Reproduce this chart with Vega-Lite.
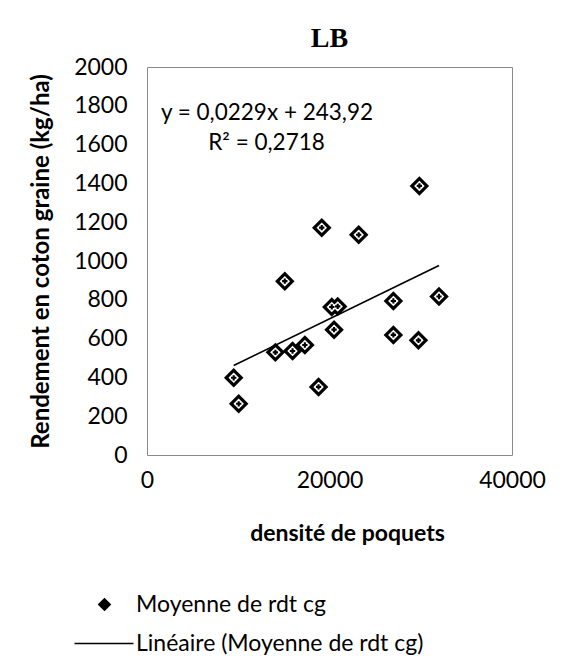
{
  "$schema": "https://vega.github.io/schema/vega-lite/v6.json",
  "autosize": "none",
  "width": 365,
  "height": 388,
  "padding": {"left": 147, "top": 67, "right": 53, "bottom": 215},
  "background": "white",
  "title": {
    "text": "LB",
    "font": "Liberation Serif",
    "fontSize": 28,
    "fontWeight": "bold",
    "color": "black",
    "anchor": "middle",
    "offset": 3
  },
  "config": {
    "font": "Lato",
    "view": {"stroke": "#8a8a8a", "strokeWidth": 1}
  },
  "datasets": {
    "moyennes": [
      {"densite": 9500, "rendement": 398, "serie": "Moyenne de rdt cg"},
      {"densite": 10050, "rendement": 264, "serie": "Moyenne de rdt cg"},
      {"densite": 14070, "rendement": 529, "serie": "Moyenne de rdt cg"},
      {"densite": 15100, "rendement": 896, "serie": "Moyenne de rdt cg"},
      {"densite": 15950, "rendement": 536, "serie": "Moyenne de rdt cg"},
      {"densite": 17300, "rendement": 567, "serie": "Moyenne de rdt cg"},
      {"densite": 18800, "rendement": 351, "serie": "Moyenne de rdt cg"},
      {"densite": 19150, "rendement": 1172, "serie": "Moyenne de rdt cg"},
      {"densite": 20250, "rendement": 763, "serie": "Moyenne de rdt cg"},
      {"densite": 20500, "rendement": 646, "serie": "Moyenne de rdt cg"},
      {"densite": 20900, "rendement": 766, "serie": "Moyenne de rdt cg"},
      {"densite": 23200, "rendement": 1135, "serie": "Moyenne de rdt cg"},
      {"densite": 27000, "rendement": 794, "serie": "Moyenne de rdt cg"},
      {"densite": 27000, "rendement": 619, "serie": "Moyenne de rdt cg"},
      {"densite": 29750, "rendement": 591, "serie": "Moyenne de rdt cg"},
      {"densite": 29850, "rendement": 1387, "serie": "Moyenne de rdt cg"},
      {"densite": 32000, "rendement": 817, "serie": "Moyenne de rdt cg"}
    ],
    "tendance": [
      {"densite": 9500, "rendement": 461.47, "serie": "Linéaire (Moyenne de rdt cg)"},
      {"densite": 32000, "rendement": 976.72, "serie": "Linéaire (Moyenne de rdt cg)"}
    ],
    "equation": [
      {"densite": 13150, "rendement": 1763, "libelle": "y = 0,0229x + 243,92"},
      {"densite": 13100, "rendement": 1610, "libelle": "R² = 0,2718"}
    ]
  },
  "encoding": {
    "x": {
      "field": "densite",
      "type": "quantitative",
      "scale": {"domain": [0, 40000], "nice": false},
      "axis": {
        "title": "densité de poquets",
        "values": [0, 20000, 40000],
        "format": "d",
        "grid": false,
        "domain": false,
        "ticks": false,
        "labelFlush": false,
        "labelPadding": 14,
        "labelFont": "Lato",
        "labelFontSize": 23,
        "labelColor": "black",
        "titleFont": "Lato",
        "titleFontSize": 23,
        "titleFontWeight": "bold",
        "titleColor": "black",
        "titlePadding": 30,
        "titleX": 200
      }
    },
    "y": {
      "field": "rendement",
      "type": "quantitative",
      "scale": {"domain": [0, 2000], "nice": false},
      "axis": {
        "title": "Rendement en coton graine (kg/ha)",
        "values": [0, 200, 400, 600, 800, 1000, 1200, 1400, 1600, 1800, 2000],
        "format": "d",
        "grid": false,
        "domain": false,
        "ticks": false,
        "labelFlush": false,
        "labelPadding": 20,
        "labelFont": "Lato",
        "labelFontSize": 23,
        "labelColor": "black",
        "titleFont": "Lato",
        "titleFontSize": 24,
        "titleFontWeight": "bold",
        "titleColor": "black",
        "titlePadding": 20
      }
    }
  },
  "layer": [
    {
      "data": {"name": "tendance"},
      "mark": {"type": "line", "strokeWidth": 1.7},
      "encoding": {
        "color": {
          "field": "serie",
          "type": "nominal",
          "scale": {
            "domain": ["Moyenne de rdt cg", "Linéaire (Moyenne de rdt cg)"],
            "range": ["black", "black"]
          },
          "legend": {
            "title": null,
            "orient": "none",
            "legendX": -54,
            "legendY": 526,
            "direction": "vertical",
            "padding": 0,
            "labelFont": "Lato",
            "labelFontSize": 23,
            "labelColor": "black",
            "labelLimit": 0,
            "labelOffset": 20,
            "symbolSize": 100,
            "rowPadding": 15,
            "encode": {
              "symbols": {
                "update": {
                  "shape": {"signal": "datum.value === 'Moyenne de rdt cg' ? 'diamond' : 'M-6,0H5.8'"},
                  "fill": {"signal": "datum.value === 'Moyenne de rdt cg' ? '#333333' : 'transparent'"},
                  "stroke": {"value": "black"},
                  "strokeWidth": {"signal": "datum.value === 'Moyenne de rdt cg' ? 2.5 : 1.7"},
                  "opacity": {"value": 1}
                }
              }
            }
          }
        }
      }
    },
    {
      "data": {"name": "moyennes"},
      "mark": {
        "type": "point",
        "shape": "diamond",
        "size": 380,
        "filled": true,
        "opacity": 1
      },
      "encoding": {
        "color": {"field": "serie", "type": "nominal"}
      }
    },
    {
      "data": {"name": "moyennes"},
      "mark": {
        "type": "point",
        "shape": "diamond",
        "size": 110,
        "filled": true,
        "color": "white",
        "opacity": 1
      }
    },
    {
      "data": {"name": "moyennes"},
      "mark": {
        "type": "point",
        "shape": "cross",
        "size": 28,
        "filled": true,
        "color": "black",
        "opacity": 1
      }
    },
    {
      "data": {"name": "equation"},
      "mark": {"type": "text", "font": "Lato", "fontSize": 22.5, "color": "black", "align": "center", "baseline": "middle"},
      "encoding": {
        "text": {"field": "libelle", "type": "nominal"}
      }
    }
  ]
}
